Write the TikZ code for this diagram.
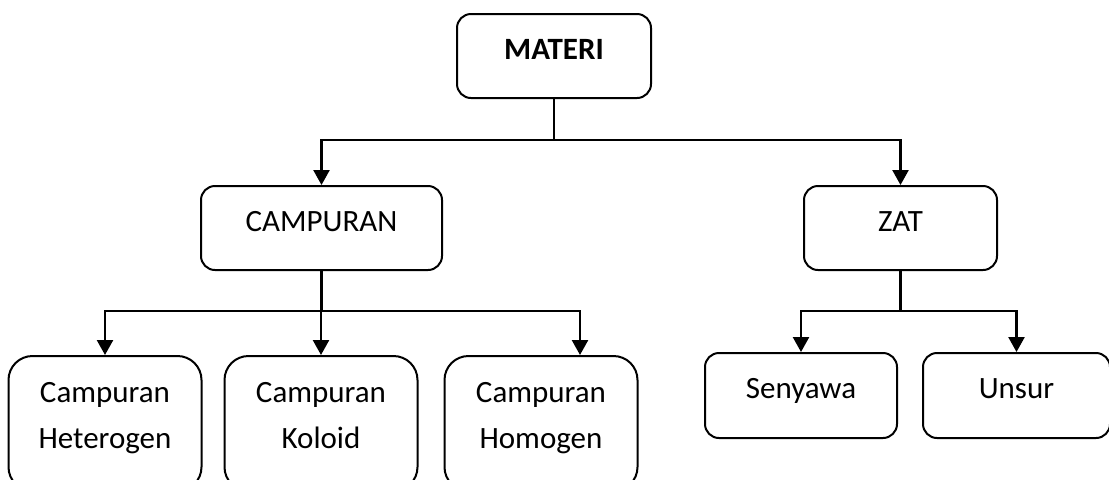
\documentclass[tikz,border=0pt]{standalone}
\usepackage{fontspec}
\setmainfont{Carlito}
\usepackage{tikz}
\usetikzlibrary{arrows.meta, positioning}

\newcommand{\boxfont}{\fontsize{15.5}{23}\selectfont}

\begin{document}
\begin{tikzpicture}[x=0.5pt, y=-0.5pt,
    topbox/.style={draw, line width=1pt, rounded corners=7pt, font=\boxfont, minimum height=42pt, text height=8pt, text depth=5pt},
    subbox/.style={draw, line width=1pt, rounded corners=12pt, font=\boxfont, minimum width=96.5pt, minimum height=67.5pt, text depth=8.5pt, align=center},
    link/.style={line width=1.2pt},
    linkarrow/.style={link, -{Triangle[width=8pt, length=7.5pt]}}]

    \useasboundingbox (0,0) rectangle (1109,479);
    \clip (0,0) rectangle (1109,479);

    % Top node
    \node (materi) [topbox, minimum width=97pt, font=\boxfont\bfseries] at (554,56) {MATERI};

    % Second level
    \node (campuran) [topbox, minimum width=120.5pt] at (321.5,228) {CAMPURAN};
    \node (zat) [topbox, minimum width=96.5pt] at (900.5,228) {ZAT};

    % Kinds of mixtures, boxes run past the lower edge
    \node (heterogen) [subbox, anchor=north] at (105,355) {Campuran\\Heterogen};
    \node (koloid) [subbox, right=10.5pt of heterogen] {Campuran\\Koloid};
    \node (homogen) [subbox, right=12.5pt of koloid] {Campuran\\Homogen};

    % Kinds of substances
    \node (senyawa) [topbox, minimum width=96pt, minimum height=42.5pt] at (801,395.5) {Senyawa};
    \node (unsur) [topbox, minimum width=93.5pt, minimum height=42.5pt, right=12pt of senyawa] {Unsur};

    % Branch points
    \coordinate (hubtop) at (554,140);
    \coordinate (hubleft) at (321.5,311);
    \coordinate (hubright) at (900.5,311);

    % Connectors
    \draw [link] (materi) -- (hubtop);
    \draw [linkarrow] (hubtop) -| (campuran);
    \draw [linkarrow] (hubtop) -| (zat);

    \draw [link] (campuran) -- (hubleft);
    \draw [linkarrow] (hubleft) -| (heterogen);
    \draw [linkarrow] (hubleft) -| (koloid);
    \draw [linkarrow] (hubleft) -| ([xshift=19.5pt]homogen.north);

    \draw [link] (zat) -- (hubright);
    \draw [linkarrow] (hubright) -| (senyawa);
    \draw [linkarrow] (hubright) -| (unsur);

\end{tikzpicture}
\end{document}
